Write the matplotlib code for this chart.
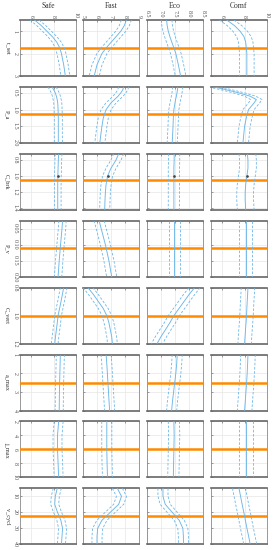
import numpy as np
import matplotlib
matplotlib.use("Agg")
import matplotlib.pyplot as plt

plt.rcParams['font.family'] = ['Liberation Serif', 'DejaVu Serif']

objectives = ["Safe", "Fast", "Eco", "Comf"]
obj_xlim = [(5, 10), (5, 9), (6.5, 8.5), (5, 10)]
obj_xticks = [[6, 8, 10], [5, 6, 7, 8, 9], [6.5, 7, 7.5, 8, 8.5], [6, 8, 10]]

params = ["t_set", "P_a", "C_brk", "P_v", "C_vert", "a_max", "j_max", "v_cycl"]
par_ylim = [(0.5, 3), (0.32, 2), (0.72, 1.42), (0.025, 0.2), (0.8, 1.2), (1, 4), (2, 10), (5, 40)]
par_yticks = [[1, 2, 3], [0.5, 1, 1.5, 2], [0.8, 1, 1.2, 1.4], [0.05, 0.1, 0.15, 0.2],
              [0.8, 1, 1.2], [1, 2, 3, 4], [2, 4, 6, 8, 10], [10, 20, 30, 40]]
optimum = [1.77, 1.13, 1.05, 0.11, 1.0, 2.5, 6, 22.5]

# sample positions along each parameter
y_t_set = [0.5, 0.75, 1.0, 1.25, 1.5, 1.75, 2.0, 2.5, 3.0]
y_P_a = [0.32, 0.4, 0.5, 0.6, 0.7, 0.8, 1.0, 1.25, 1.5, 2.0]
y_C_brk = [0.72, 0.8, 0.9, 1.0, 1.1, 1.2, 1.3, 1.42]
y_P_v = [0.025, 0.05, 0.1, 0.15, 0.2]
y_C_vert = [0.8, 0.85, 0.9, 0.95, 1.0, 1.05, 1.1, 1.15, 1.2]
y_a_max = [1, 1.5, 2, 2.5, 3, 3.5, 4]
y_j_max = [2, 4, 6, 8, 10]
y_v_cycl = [5, 10, 15, 20, 25, 30, 35, 40]
par_samples = [y_t_set, y_P_a, y_C_brk, y_P_v, y_C_vert, y_a_max, y_j_max, y_v_cycl]

# mean objective value  [Safe, Fast, Eco, Comf] for each parameter
m_t_set = [[6.3, 6.9, 7.4, 7.9, 8.3, 8.55, 8.7, 8.9, 9.05],
           [8.1, 7.95, 7.7, 7.35, 7.0, 6.65, 6.35, 6.0, 5.8],
           [7.2, 7.22, 7.26, 7.32, 7.39, 7.46, 7.53, 7.62, 7.7],
           [6.4, 7.1, 7.6, 7.95, 8.1, 8.15, 8.2, 8.2, 8.2]]
m_P_a = [[7.85, 8.0, 8.15, 8.25, 8.32, 8.37, 8.4, 8.42, 8.42, 8.42],
         [7.9, 7.85, 7.7, 7.5, 7.25, 7.0, 6.65, 6.45, 6.35, 6.2],
         [7.6, 7.59, 7.57, 7.55, 7.52, 7.5, 7.46, 7.44, 7.43, 7.4],
         [5.3, 6.3, 7.5, 8.5, 9.05, 8.85, 8.35, 8.15, 8.0, 7.85]]
m_C_brk = [[8.45, 8.42, 8.4, 8.38, 8.37, 8.37, 8.37, 8.37],
           [7.55, 7.35, 7.0, 6.75, 6.65, 6.6, 6.57, 6.55],
           [7.47, 7.47, 7.46, 7.46, 7.46, 7.46, 7.46, 7.46],
           [8.25, 8.3, 8.3, 8.2, 8.1, 8.05, 8.05, 8.1]]
m_P_v = [[8.8, 8.75, 8.62, 8.5, 8.4],
         [6.15, 6.3, 6.6, 6.85, 7.05],
         [7.47, 7.47, 7.47, 7.47, 7.47],
         [8.1, 8.1, 8.1, 8.1, 8.1]]
m_C_vert = [[8.9, 8.78, 8.66, 8.53, 8.4, 8.33, 8.25, 8.17, 8.1],
            [5.35, 5.75, 6.1, 6.45, 6.7, 6.85, 6.95, 7.05, 7.1],
            [8.2, 8.0, 7.82, 7.64, 7.46, 7.32, 7.16, 7.0, 6.86],
            [8.3, 8.27, 8.23, 8.2, 8.17, 8.13, 8.08, 8.04, 8.0]]
m_a_max = [[8.6, 8.58, 8.56, 8.54, 8.52, 8.51, 8.5],
           [6.65, 6.7, 6.74, 6.78, 6.82, 6.86, 6.9],
           [7.58, 7.56, 7.53, 7.49, 7.45, 7.41, 7.38],
           [8.3, 8.27, 8.23, 8.18, 8.12, 8.06, 8.0]]
m_j_max = [[8.45, 8.35, 8.35, 8.4, 8.45],
           [6.7, 6.7, 6.7, 6.72, 6.75],
           [7.46, 7.47, 7.46, 7.45, 7.44],
           [8.1, 8.1, 8.1, 8.1, 8.1]]
m_v_cycl = [[8.33, 8.15, 8.1, 8.35, 8.65, 8.8, 8.75, 8.7],
            [7.45, 7.75, 7.55, 6.95, 6.35, 6.05, 6.0, 6.0],
            [7.07, 7.07, 7.15, 7.4, 7.65, 7.78, 7.8, 7.8],
            [7.5, 7.64, 7.78, 7.93, 8.07, 8.21, 8.36, 8.5]]
par_means = [m_t_set, m_P_a, m_C_brk, m_P_v, m_C_vert, m_a_max, m_j_max, m_v_cycl]

# half width of dashed confidence band, per parameter row [Safe, Fast, Eco, Comf]
halfwidth = [[0.4, 0.36, 0.19, 0.65],
             [0.36, 0.36, 0.18, 0.5],
             [0.3, 0.36, 0.2, 0.75],
             [0.33, 0.36, 0.2, 0.6],
             [0.3, 0.35, 0.2, 0.6],
             [0.36, 0.36, 0.18, 0.65],
             [0.4, 0.36, 0.2, 0.64],
             [0.36, 0.36, 0.18, 0.58]]

nominal_C_brk = 1.0

W, H = 273, 550
fig = plt.figure(figsize=(W / 100, H / 100), dpi=100)

col_left = [20, 83, 147, 211]
ax_w = 56
ax_h = 56
row_top0 = 20
row_step = 66.9

blue = '#6cb6e6'
orange = '#ff8a00'
frame = '#666666'

for r in range(len(params)):
    top = row_top0 + r * row_step
    for c in range(len(objectives)):
        ax = fig.add_axes([col_left[c] / W, 1 - (top + ax_h) / H, ax_w / W, ax_h / H])
        ys = np.array(par_samples[r])
        xs = np.array(par_means[r][c])
        hw = halfwidth[r][c]
        ax.axhline(optimum[r], color=orange, lw=1.8, zorder=3)
        ax.plot(xs, ys, color=blue, lw=0.65, zorder=4)
        ax.plot(xs - hw, ys, color=blue, lw=0.6, ls=(0, (3, 2)), zorder=4)
        ax.plot(xs + hw, ys, color=blue, lw=0.6, ls=(0, (3, 2)), zorder=4)
        if params[r] == "C_brk":
            ax.plot([np.interp(nominal_C_brk, ys, xs)], [nominal_C_brk], 'o',
                    ms=0.9, color='#444444', zorder=5)
        ax.set_xlim(*obj_xlim[c])
        ax.set_ylim(par_ylim[r][1], par_ylim[r][0])
        ax.set_xticks(obj_xticks[c])
        ax.set_yticks(par_yticks[r])
        ax.grid(True, color='#e6e6e6', lw=0.5, zorder=0)
        ax.set_axisbelow(True)
        ax.xaxis.tick_top()
        ax.tick_params(axis='both', direction='in', length=1.5, width=0.4,
                       colors='#555555', labelsize=4.3, pad=1.5)
        ax.tick_params(axis='x', labelrotation=-90)
        ax.tick_params(axis='y', labelrotation=-90)
        for lab in ax.get_yticklabels():
            lab.set_va('center')
        if r != 0:
            ax.set_xticklabels([])
        if c != 0:
            ax.set_yticklabels([])
        for s in ['top', 'bottom']:
            ax.spines[s].set_color(frame)
            ax.spines[s].set_linewidth(1.2)
        for s in ['left', 'right']:
            ax.spines[s].set_color('#888888')
            ax.spines[s].set_linewidth(0.6)
        if c == 0:
            ax.set_ylabel(params[r], rotation=-90, fontsize=4.5, color='#333333',
                          va='center', ha='center')
            ax.yaxis.set_label_coords(-0.23, 0.5)
        if r == 0:
            ax.set_title(objectives[c], fontsize=5.5, color='#333333', pad=9)

fig.savefig("out.png", dpi=100)
